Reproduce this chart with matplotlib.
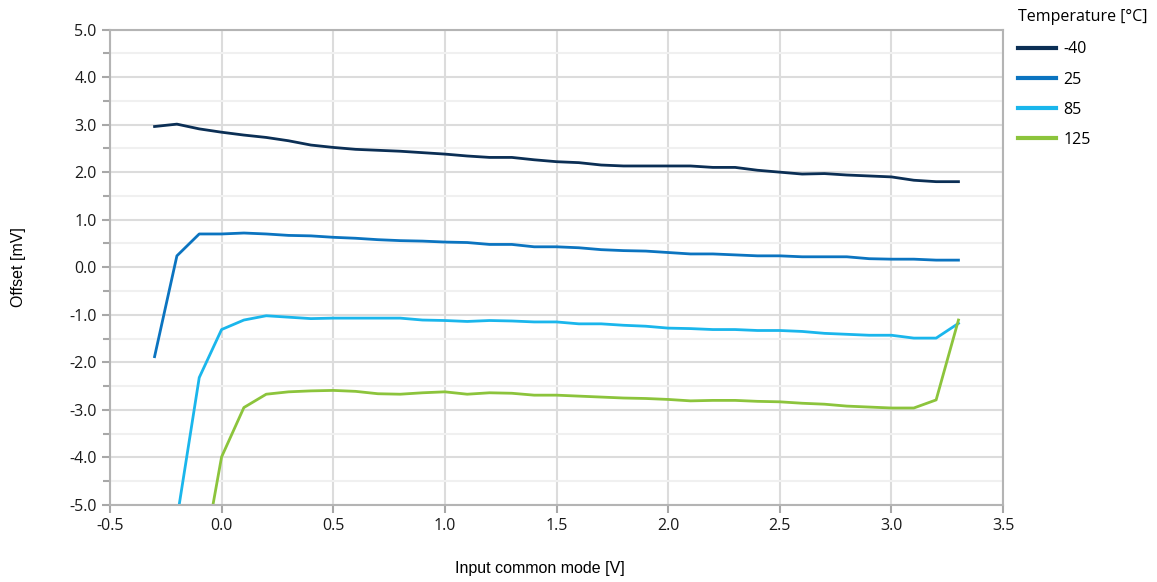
import numpy as np
import matplotlib

matplotlib.use("Agg")
import matplotlib.pyplot as plt
from matplotlib.ticker import MultipleLocator, FormatStrFormatter

# data (input common mode in V, offset in mV)
VCM = [-0.3, -0.2, -0.1, 0.0, 0.1, 0.2, 0.3, 0.4, 0.5, 0.6, 0.7, 0.8, 0.9,
       1.0, 1.1, 1.2, 1.3, 1.4, 1.5, 1.6, 1.7, 1.8, 1.9, 2.0, 2.1, 2.2,
       2.3, 2.4, 2.5, 2.6, 2.7, 2.8, 2.9, 3.0, 3.1, 3.2, 3.3]

OFFSET_M40 = [2.96, 3.01, 2.91, 2.84, 2.78, 2.73, 2.66, 2.57, 2.52, 2.48,
              2.46, 2.44, 2.41, 2.38, 2.34, 2.31, 2.31, 2.26, 2.22, 2.20,
              2.15, 2.13, 2.13, 2.13, 2.13, 2.10, 2.10, 2.04, 2.00, 1.96,
              1.97, 1.94, 1.92, 1.90, 1.83, 1.80, 1.80]
OFFSET_25 = [-1.88, 0.24, 0.70, 0.70, 0.72, 0.70, 0.67, 0.66, 0.63, 0.61,
             0.58, 0.56, 0.55, 0.53, 0.52, 0.48, 0.48, 0.43, 0.43, 0.41,
             0.37, 0.35, 0.34, 0.31, 0.28, 0.28, 0.26, 0.24, 0.24, 0.22,
             0.22, 0.22, 0.18, 0.17, 0.17, 0.15, 0.15]
OFFSET_85 = [None, -5.3, -2.32, -1.31, -1.11, -1.02, -1.05, -1.08, -1.07,
             -1.07, -1.07, -1.07, -1.11, -1.12, -1.14, -1.12, -1.13, -1.15,
             -1.15, -1.19, -1.19, -1.22, -1.24, -1.28, -1.29, -1.31, -1.31,
             -1.33, -1.33, -1.35, -1.39, -1.41, -1.43, -1.43, -1.49, -1.49,
             -1.18]
OFFSET_125 = [None, None, -6.6, -3.99, -2.95, -2.67, -2.62, -2.60, -2.59,
              -2.61, -2.66, -2.67, -2.64, -2.62, -2.67, -2.64, -2.65, -2.69,
              -2.69, -2.71, -2.73, -2.75, -2.76, -2.78, -2.81, -2.80, -2.80,
              -2.82, -2.83, -2.86, -2.88, -2.92, -2.94, -2.96, -2.96, -2.79,
              -1.11]

LABELS = ["-40", "25", "85", "125"]
COLORS = ["#0b2f55", "#0b74c0", "#1ab6ec", "#8cc43c"]

TICK_FONT = "Open Sans"
LABEL_FONT = "Liberation Sans"


def to_array(values):
    return np.array([np.nan if v is None else v for v in values], dtype=float)


fig = plt.figure(figsize=(11.57, 5.82), dpi=100)
ax = fig.add_axes([0.095, 0.1323, 0.772, 0.8170])

series = [OFFSET_M40, OFFSET_25, OFFSET_85, OFFSET_125]
for values, label, color in zip(series, LABELS, COLORS):
    ax.plot(VCM, to_array(values), color=color, lw=2.0, label=label,
            solid_joinstyle="round")

ax.set_xlim(-0.5, 3.5)
ax.set_ylim(-5.0, 5.0)
ax.xaxis.set_major_locator(MultipleLocator(0.5))
ax.yaxis.set_major_locator(MultipleLocator(1.0))
ax.yaxis.set_minor_locator(MultipleLocator(0.5))
ax.xaxis.set_major_formatter(FormatStrFormatter("%.1f"))
ax.yaxis.set_major_formatter(FormatStrFormatter("%.1f"))

ax.grid(which="major", color="#dcdcdc", lw=1.5)
ax.grid(which="minor", axis="y", color="#f0f0f0", lw=1.5)
ax.set_axisbelow(True)

for side in ax.spines.values():
    side.set_color("#b4b4b4")
    side.set_linewidth(1.5)

ax.tick_params(which="both", direction="out", color="#a8a8a8", width=1.5,
               labelsize=11.5, labelcolor="#1a1a1a")
ax.tick_params(which="major", length=6)
ax.tick_params(which="minor", length=5)
for lab in ax.get_xticklabels() + ax.get_yticklabels():
    lab.set_family(TICK_FONT)

ax.set_xlabel("Input common mode [V]", family=LABEL_FONT, fontsize=11.5,
              labelpad=19, x=0.4815)
ax.set_ylabel("Offset [mV]", family=LABEL_FONT, fontsize=11.5, labelpad=31)

leg = ax.legend(title="Temperature [°C]", loc="upper left",
                bbox_to_anchor=(1.009, 1.057), frameon=False,
                prop={"family": TICK_FONT, "size": 11.5},
                handlelength=2.4, handletextpad=0.45, labelspacing=0.88,
                borderaxespad=0.0)
leg.get_title().set_family(TICK_FONT)
leg.get_title().set_fontsize(11.5)
leg._legend_box.align = "left"
leg._legend_box.sep = 12
for line in leg.get_lines():
    line.set_linewidth(3)

fig.savefig("out.png", dpi=100, facecolor="white")
